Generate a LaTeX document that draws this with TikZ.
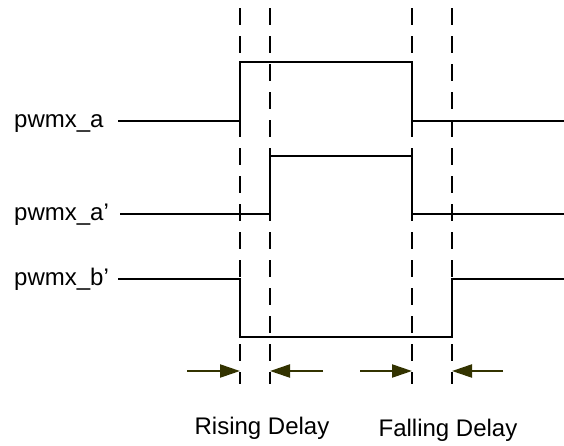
\documentclass[tikz,border=0pt]{standalone}
\usepackage{fontspec}
\setmainfont{Liberation Sans}
\usepackage{tikz}
\usetikzlibrary{arrows.meta}
\definecolor{dlyolive}{RGB}{51,51,0}

\begin{document}
\begin{tikzpicture}[x=1pt,y=-1pt,font=\fontsize{24}{28}\selectfont,
  sig/.style={line width=2pt,black},
  gd/.style={line width=2.4pt,dash pattern=on 17pt off 11pt},
  dl/.style={-{Triangle[length=20pt,width=13pt]},line width=2.2pt,dlyolive},
  lb/.style={anchor=base west,inner sep=0pt},
  dlab/.style={anchor=base,inner sep=0pt}]
  \useasboundingbox (0,0) rectangle (564,445);
  % edge guides
  \foreach \gx/\gn in {240/ra,270/rb,412/fa,452/fb}{
    \coordinate (t\gn) at (\gx,8);
    \coordinate (b\gn) at (\gx,384);
    \draw[gd] (t\gn) -- (b\gn);
  }
  % signals
  \node[lb] (pa) at (14,127) {pwmx\_a};
  \node[lb] (pap) at (14,220) {pwmx\_a'};
  \node[lb] (pbp) at (14,285) {pwmx\_b'};
  \coordinate (pas) at (118,121);
  \coordinate (paps) at (120,214);
  \coordinate (pbps) at (118,279);
  \draw[sig] (pas) -- (tra |- pas) -- (240,62) -- (412,62) -- (412,121) -- (564,121);
  \draw[sig] (paps) -- (trb |- paps) -- (270,156) -- (412,156) -- (412,214) -- (564,214);
  \draw[sig] (pbps) -- (tra |- pbps) -- (240,337) -- (452,337) -- (452,279) -- (564,279);
  % delay arrows
  \coordinate (d1) at (187,371);
  \coordinate (d2) at (323,371);
  \coordinate (d3) at (360,371);
  \coordinate (d4) at (503,371);
  \draw[dl] (d1) -- (d1 -| tra);
  \draw[dl] (d2) -- (d2 -| trb);
  \draw[dl] (d3) -- (d3 -| tfa);
  \draw[dl] (d4) -- (d4 -| tfb);
  \node[dlab] (rd) at (262,434) {Rising Delay};
  \node[dlab] (fd) at (448,436) {Falling Delay};
\end{tikzpicture}
\end{document}
